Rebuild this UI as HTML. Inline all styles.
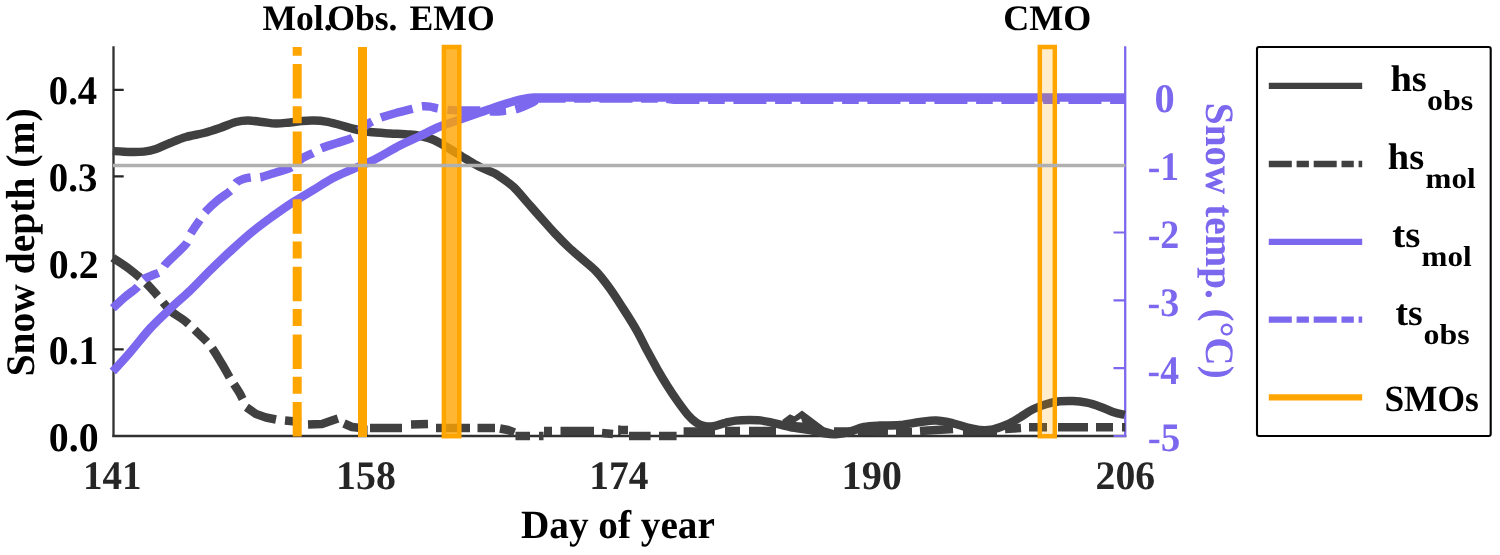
<!DOCTYPE html>
<html lang="en">
<head>
<meta charset="utf-8">
<title>Snow depth and snow temperature</title>
<style>
html,body{margin:0;padding:0;background:#fff;}
body{width:1500px;height:555px;overflow:hidden;}
svg{display:block;}
text{font-family:"Liberation Serif","Times New Roman",serif;font-weight:bold;text-rendering:geometricPrecision;}
</style>
</head>
<body>
<svg width="1500" height="555" viewBox="0 0 1500 555">
<rect x="0" y="0" width="1500" height="555" fill="#ffffff"/>

<!-- axes -->
<g fill="none" stroke-linecap="butt">
<path d="M113.5 46.3 V437.1" stroke="#303030" stroke-width="2.3"/>
<path d="M112.4 436 H1126.3" stroke="#303030" stroke-width="2.3"/>
<path d="M113.5 89.8 h10.2 M113.5 176.3 h10.2 M113.5 262.9 h10.2 M113.5 349.4 h10.2" stroke="#262626" stroke-width="2.2"/>
<path d="M366.4 436 v-10.5 M619.4 436 v-10.5 M872.3 436 v-10.5" stroke="#262626" stroke-width="2.2"/>
<path d="M1125.2 46.3 V437.1" stroke="#7b68ee" stroke-width="2.3"/>
<path d="M1125.2 96.8 h-11.7 M1125.2 232.5 h-11.7 M1125.2 300.4 h-11.7 M1125.2 368.2 h-11.7 M1125.2 436 h-11.7" stroke="#7b68ee" stroke-width="2.2"/>
</g>

<!-- data curves -->
<g fill="none" stroke-linejoin="round" stroke-linecap="butt">
<path d="M112.8 257.8 C115.7 259.8 124.4 265.2 130.0 269.5 C135.6 273.8 141.7 279.0 146.5 283.6 C151.3 288.2 154.5 292.4 158.6 297.0 C162.7 301.6 166.4 307.0 170.8 311.0 C175.2 315.0 180.3 317.2 185.0 321.0 C189.7 324.8 194.7 329.8 199.0 334.0 C203.3 338.2 207.2 341.5 211.0 346.5 C214.8 351.5 218.8 358.8 222.0 364.0 C225.2 369.2 227.2 373.3 230.0 378.0 C232.8 382.7 236.9 388.5 239.0 392.0 C241.1 395.5 242.0 397.8 242.6 399.0" stroke="#404040" stroke-width="8.5" stroke-dasharray="33.8 8 17.6 8.2"/>
<path d="M246.4 407.3 L256 414 L266 417.5 L276 419.5 M285 420.5 L301 422 M308 424.5 L322 424 L332 420.5 L338 418.5 M344 423.5 L352 427 L361 428 M370 428 L402 428 M411 424.5 L428 424 M436 428 L470 428 M477.5 428 L495 428 M500 428.5 L508 430 L514.5 432.5 M515.5 436 L530 436 M539 436 L543.5 436 M544 431 L552 431 M560.5 431 L594 431 M602 433 L613 434 M618.6 430 L628 430 M629 436 L650.6 436 M659 436 L676.6 436 M683.6 431.5 L715 431.5 M725 431 L740 431 M749 431 L776 431 M834 431.5 L850 431.5 M858 431 L888 431.5 M896 432 L912 432 M920 431 L953 429 M963 431 L997 431 M1005 429 L1021 428 M1029 427.3 L1047 427.3 M1058 427.3 L1088 427.3 M1096 427.3 L1113 427.3 M1122 427.3 L1125.2 427.3" stroke="#404040" stroke-width="8.5"/>
<path d="M782.5 419.8 L789.9 414.2 L794.3 416.3 L802 410.4 L824.4 427.2 L834 430 L834 434 L782.5 427 Z" fill="#404040" stroke="none"/>
<path d="M795.5 422 L801 418.5 L802.5 422.6 Z" fill="#fff" stroke="none"/>
<path d="M112.8 151.0 C115.7 151.2 124.8 151.9 130.0 152.0 C135.2 152.1 139.7 152.1 144.0 151.6 C148.3 151.1 151.7 150.4 156.0 149.0 C160.3 147.6 165.0 145.0 170.0 143.0 C175.0 141.0 180.3 138.7 186.0 137.0 C191.7 135.3 198.3 134.5 204.0 133.0 C209.7 131.5 214.7 129.8 220.0 128.0 C225.3 126.2 231.3 123.3 236.0 122.0 C240.7 120.7 243.7 120.4 248.0 120.4 C252.3 120.4 257.3 121.5 262.0 122.0 C266.7 122.5 271.3 123.5 276.0 123.6 C280.7 123.7 285.7 122.8 290.0 122.4 C294.3 122.0 298.0 121.3 302.0 121.0 C306.0 120.7 310.0 120.5 314.0 120.6 C318.0 120.7 321.7 120.9 326.0 121.6 C330.3 122.3 335.3 123.8 340.0 125.0 C344.7 126.2 349.0 127.8 354.0 129.0 C359.0 130.2 364.0 131.3 370.0 132.0 C376.0 132.7 383.3 133.0 390.0 133.4 C396.7 133.8 405.0 134.2 410.0 134.6 C415.0 135.0 416.0 135.1 420.0 136.0 C424.0 136.9 429.0 137.8 434.0 140.0 C439.0 142.2 444.7 145.8 450.0 149.0 C455.3 152.2 461.0 156.0 466.0 159.0 C471.0 162.0 475.3 164.7 480.0 167.0 C484.7 169.3 490.7 171.4 494.0 173.0 C497.3 174.6 496.7 174.5 500.0 176.8 C503.3 179.2 509.1 182.8 513.7 187.1 C518.3 191.4 522.9 197.4 527.4 202.5 C531.9 207.6 536.4 212.8 541.0 217.9 C545.6 223.0 550.2 228.5 554.8 233.3 C559.4 238.2 563.8 242.7 568.4 247.0 C573.0 251.3 577.5 255.0 582.1 259.0 C586.7 263.0 591.2 266.2 595.8 271.0 C600.4 275.8 604.9 281.7 609.5 288.0 C614.1 294.3 618.6 301.5 623.2 308.6 C627.8 315.7 633.0 323.9 636.9 330.8 C640.8 337.7 643.4 343.7 646.8 350.0 C650.2 356.3 653.7 362.8 657.1 368.8 C660.5 374.8 664.0 380.6 667.4 386.0 C670.8 391.4 674.3 396.6 677.7 401.4 C681.1 406.2 684.9 411.4 688.0 415.0 C691.1 418.6 693.7 420.9 696.5 422.8 C699.3 424.7 702.1 425.6 705.0 426.2 C707.9 426.8 710.2 426.8 713.6 426.2 C717.0 425.6 721.9 423.7 725.6 422.8 C729.3 421.9 731.9 421.1 735.9 420.6 C739.9 420.1 745.6 420.0 749.6 420.0 C753.6 420.0 756.6 420.0 760.0 420.4 C763.4 420.8 765.0 421.1 770.0 422.2 C775.0 423.3 783.3 425.7 790.0 427.0 C796.7 428.3 804.0 428.9 810.0 430.0 C816.0 431.1 821.3 432.9 826.0 433.6 C830.7 434.3 834.0 434.3 838.0 434.0 C842.0 433.7 845.7 432.8 850.0 431.6 C854.3 430.4 859.0 428.0 864.0 427.0 C869.0 426.0 874.0 425.9 880.0 425.6 C886.0 425.3 893.3 425.6 900.0 425.0 C906.7 424.4 914.0 422.7 920.0 422.0 C926.0 421.3 930.5 420.4 936.0 420.6 C941.5 420.8 947.9 422.2 953.0 423.3 C958.1 424.4 962.2 426.2 966.7 427.3 C971.2 428.4 975.6 429.7 980.0 430.0 C984.4 430.3 988.5 430.2 993.0 429.3 C997.5 428.4 1002.2 426.7 1006.7 424.7 C1011.2 422.7 1015.6 419.9 1020.0 417.3 C1024.4 414.7 1028.5 411.5 1033.0 409.3 C1037.5 407.1 1042.2 405.3 1046.7 404.0 C1051.2 402.7 1055.6 401.8 1060.0 401.3 C1064.4 400.8 1068.5 400.8 1073.0 401.0 C1077.5 401.2 1082.2 401.8 1086.7 402.7 C1091.2 403.6 1095.6 405.1 1100.0 406.7 C1104.4 408.2 1108.9 410.6 1113.0 412.0 C1117.1 413.4 1122.8 414.5 1124.7 415.0" stroke="#404040" stroke-width="8.5"/>
<path d="M112.8 308.2 C114.8 306.3 121.1 300.3 125.0 297.0 C128.9 293.7 133.4 290.7 136.0 288.4 C138.6 286.1 139.1 284.6 140.5 283.0 C141.9 281.4 142.5 279.8 144.6 278.5 C146.7 277.2 150.1 276.2 153.0 275.0 C155.9 273.8 160.0 272.6 162.0 271.0 C164.0 269.4 162.6 268.0 164.8 265.3 C167.0 262.6 171.4 258.6 175.0 255.0 C178.6 251.4 183.8 247.2 186.4 243.6 C189.0 240.0 188.6 237.3 190.8 233.5 C193.0 229.7 197.0 224.2 199.4 220.6 C201.8 217.0 202.1 215.4 205.2 212.0 C208.3 208.6 213.7 203.6 218.0 200.0 C222.3 196.4 227.8 193.3 231.0 190.3 C234.2 187.3 234.8 183.9 237.0 182.0 C239.2 180.1 241.7 179.6 244.0 178.8 C246.3 178.0 248.8 177.7 250.8 177.4 C252.8 177.1 254.2 177.3 256.0 177.2 C257.8 177.1 258.4 177.8 261.7 177.0 C265.0 176.2 271.1 174.1 276.0 172.5 C280.9 170.9 287.0 169.7 291.4 167.3 C295.8 164.9 298.5 160.8 302.3 158.3 C306.1 155.8 311.1 154.1 314.2 152.4 C317.3 150.8 317.2 150.0 321.0 148.4 C324.8 146.8 331.7 144.8 337.0 143.0 C342.3 141.2 349.1 139.5 352.8 137.5 C356.5 135.5 356.7 133.1 359.0 131.0 C361.3 128.9 364.6 126.2 366.7 124.7 C368.8 123.2 369.3 122.9 371.6 121.7 C373.9 120.5 376.5 119.2 380.6 117.7 C384.7 116.2 390.7 114.5 396.0 113.0 C401.3 111.5 408.1 109.9 412.3 108.8 C416.5 107.7 418.4 106.8 421.4 106.4 C424.3 106.0 427.3 106.3 430.0 106.6 C432.7 106.9 434.9 107.9 437.6 108.4 C440.4 108.9 443.2 109.5 446.5 109.8 C449.8 110.1 451.8 110.3 457.4 110.4 C463.0 110.5 473.9 110.4 480.2 110.6 C486.5 110.8 490.7 111.5 495.0 111.5 C499.3 111.5 502.7 110.9 506.0 110.6 C509.3 110.3 512.0 110.2 515.0 109.5 C518.0 108.8 521.4 107.4 524.0 106.4 C526.6 105.4 528.7 104.5 530.7 103.4 C532.7 102.3 535.1 100.6 536.0 100.0" stroke="#7b68ee" stroke-width="8.5" stroke-dasharray="32.8 9.7 16.2 9.6"/>
<path d="M532.5 99 L540 98.6 L664 98.6 L674 99.7 L1125.2 99.8" stroke="#7b68ee" stroke-width="8.5" stroke-dasharray="33 8.7 16.6 8.7"/>
<path d="M112.8 371.5 C115.7 368.3 123.7 359.8 130.0 352.5 C136.3 345.2 143.7 335.4 150.5 328.0 C157.3 320.6 164.2 314.4 171.0 308.0 C177.8 301.6 184.3 296.1 191.0 289.7 C197.7 283.3 204.2 276.1 211.0 269.5 C217.8 262.9 224.8 256.2 231.6 250.0 C238.4 243.8 245.3 237.5 252.0 232.0 C258.7 226.5 265.3 221.7 272.0 216.8 C278.7 211.9 285.6 207.0 292.4 202.6 C299.2 198.2 305.9 194.5 312.7 190.4 C319.5 186.3 326.3 181.6 333.0 178.0 C339.7 174.4 346.2 172.0 353.0 169.0 C359.8 166.0 365.7 163.9 373.5 160.0 C381.3 156.1 392.2 149.4 400.0 145.4 C407.8 141.4 413.3 139.2 420.0 136.0 C426.7 132.8 433.3 129.2 440.0 126.5 C446.7 123.8 453.3 121.8 460.0 119.5 C466.7 117.2 473.3 114.8 480.0 112.5 C486.7 110.2 493.3 107.6 500.0 105.5 C506.7 103.4 515.2 101.0 520.0 99.7 C524.8 98.4 527.5 98.2 529.0 97.9 L534 97.5 L1125.2 97.5" stroke="#7b68ee" stroke-width="8.5"/>
</g>

<!-- snow melt-out markers -->
<g fill="none" stroke="#ffa500">
<path d="M297.2 436.5 V47" stroke-width="9" stroke-dasharray="34.5 8.3 17 7.8"/>
<path d="M362.5 437 V47" stroke-width="9"/>
<rect x="443.9" y="47" width="15.4" height="389.2" stroke-width="4.5" fill="#ffa500" fill-opacity="0.8"/>
<rect x="1039.8" y="47" width="15" height="389.2" stroke-width="4.5" fill="#ffa500" fill-opacity="0.2"/>
</g>
<path d="M113 165.55 H1125.3" stroke="#b0b0b0" stroke-width="3.5" fill="none"/>

<!-- annotations -->
<text x="262.47" y="30.00" font-size="36" fill="#000" textLength="70.20" lengthAdjust="spacingAndGlyphs">Mol.</text>
<text x="327.22" y="30.00" font-size="36" fill="#000" textLength="70.32" lengthAdjust="spacingAndGlyphs">Obs.</text>
<text x="409.46" y="30.00" font-size="36" fill="#000" textLength="85.27" lengthAdjust="spacingAndGlyphs">EMO</text>
<text x="1003.20" y="30.00" font-size="36" fill="#000" textLength="88.06" lengthAdjust="spacingAndGlyphs">CMO</text>

<!-- left axis labels -->
<text x="48.85" y="104.30" font-size="40.5" fill="#000" textLength="48.32" lengthAdjust="spacingAndGlyphs">0.4</text>
<text x="48.85" y="191.40" font-size="40.5" fill="#000" textLength="48.51" lengthAdjust="spacingAndGlyphs">0.3</text>
<text x="48.81" y="277.80" font-size="40.5" fill="#000" textLength="49.79" lengthAdjust="spacingAndGlyphs">0.2</text>
<text x="48.81" y="364.40" font-size="40.5" fill="#000" textLength="49.57" lengthAdjust="spacingAndGlyphs">0.1</text>
<text x="48.81" y="451.00" font-size="40.5" fill="#000" textLength="49.79" lengthAdjust="spacingAndGlyphs">0.0</text>
<text transform="translate(34.3 242.2) rotate(-90)" x="-134.17" y="0" font-size="40.5" fill="#000" textLength="267.91" lengthAdjust="spacingAndGlyphs">Snow depth (m)</text>

<!-- bottom axis labels -->
<text x="83.08" y="489.30" font-size="40.5" fill="#262626" textLength="58.47" lengthAdjust="spacingAndGlyphs">141</text>
<text x="336.11" y="489.30" font-size="40.5" fill="#262626" textLength="59.78" lengthAdjust="spacingAndGlyphs">158</text>
<text x="589.25" y="489.30" font-size="40.5" fill="#262626" textLength="59.14" lengthAdjust="spacingAndGlyphs">174</text>
<text x="841.47" y="489.30" font-size="40.5" fill="#262626" textLength="60.54" lengthAdjust="spacingAndGlyphs">190</text>
<text x="1095.61" y="489.30" font-size="40.5" fill="#262626" textLength="59.58" lengthAdjust="spacingAndGlyphs">206</text>
<text x="521.02" y="538.00" font-size="40" fill="#000" textLength="193.88" lengthAdjust="spacingAndGlyphs">Day of year</text>

<!-- right axis labels -->
<text x="1154.38" y="112.20" font-size="40.5" fill="#7b68ee" textLength="20.24" lengthAdjust="spacingAndGlyphs">0</text>
<text x="1147.68" y="180.00" font-size="40.5" fill="#7b68ee" textLength="31.31" lengthAdjust="spacingAndGlyphs">-1</text>
<text x="1147.67" y="247.90" font-size="40.5" fill="#7b68ee" textLength="31.67" lengthAdjust="spacingAndGlyphs">-2</text>
<text x="1147.57" y="315.70" font-size="40.5" fill="#7b68ee" textLength="31.69" lengthAdjust="spacingAndGlyphs">-3</text>
<text x="1147.58" y="383.80" font-size="40.5" fill="#7b68ee" textLength="31.40" lengthAdjust="spacingAndGlyphs">-4</text>
<text x="1147.63" y="451.40" font-size="40.5" fill="#7b68ee" textLength="32.55" lengthAdjust="spacingAndGlyphs">-5</text>
<text transform="translate(1205.5 241) rotate(90)" x="-138.16" y="0" font-size="40.3" fill="#7b68ee" textLength="275.86" lengthAdjust="spacingAndGlyphs">Snow temp. (°C)</text>

<!-- legend -->
<rect x="1257" y="47" width="233.7" height="389" rx="2" ry="2" fill="#fff" stroke="#000" stroke-width="2.1"/>
<g fill="none" stroke-width="6.3">
<path d="M1268.8 85.9 H1362.2" stroke="#404040"/>
<path d="M1268.8 164 H1362.2" stroke="#404040" stroke-dasharray="23 4.8 12.3 4.8"/>
<path d="M1268.8 241.8 H1362.2" stroke="#7b68ee"/>
<path d="M1268.8 319.7 H1362.2" stroke="#7b68ee" stroke-dasharray="23 4.8 12.3 4.8"/>
<path d="M1268.8 397.4 H1362.2" stroke="#ffa500"/>
</g>
<text x="1390.44" y="91.00" font-size="37" fill="#000" textLength="36.44" lengthAdjust="spacingAndGlyphs">hs</text>
<text x="1427.12" y="109.90" font-size="29" fill="#000" textLength="46.19" lengthAdjust="spacingAndGlyphs">obs</text>
<text x="1387.84" y="169.00" font-size="37" fill="#000" textLength="36.33" lengthAdjust="spacingAndGlyphs">hs</text>
<text x="1425.62" y="187.70" font-size="29" fill="#000" textLength="50.07" lengthAdjust="spacingAndGlyphs">mol</text>
<text x="1392.22" y="247.20" font-size="37" fill="#000" textLength="28.04" lengthAdjust="spacingAndGlyphs">ts</text>
<text x="1421.62" y="266.10" font-size="29" fill="#000" textLength="50.07" lengthAdjust="spacingAndGlyphs">mol</text>
<text x="1395.44" y="324.90" font-size="37" fill="#000" textLength="27.19" lengthAdjust="spacingAndGlyphs">ts</text>
<text x="1423.52" y="344.30" font-size="29" fill="#000" textLength="46.08" lengthAdjust="spacingAndGlyphs">obs</text>
<text x="1384.45" y="411.10" font-size="37" fill="#000" textLength="94.40" lengthAdjust="spacingAndGlyphs">SMOs</text>
</svg>
</body>
</html>
